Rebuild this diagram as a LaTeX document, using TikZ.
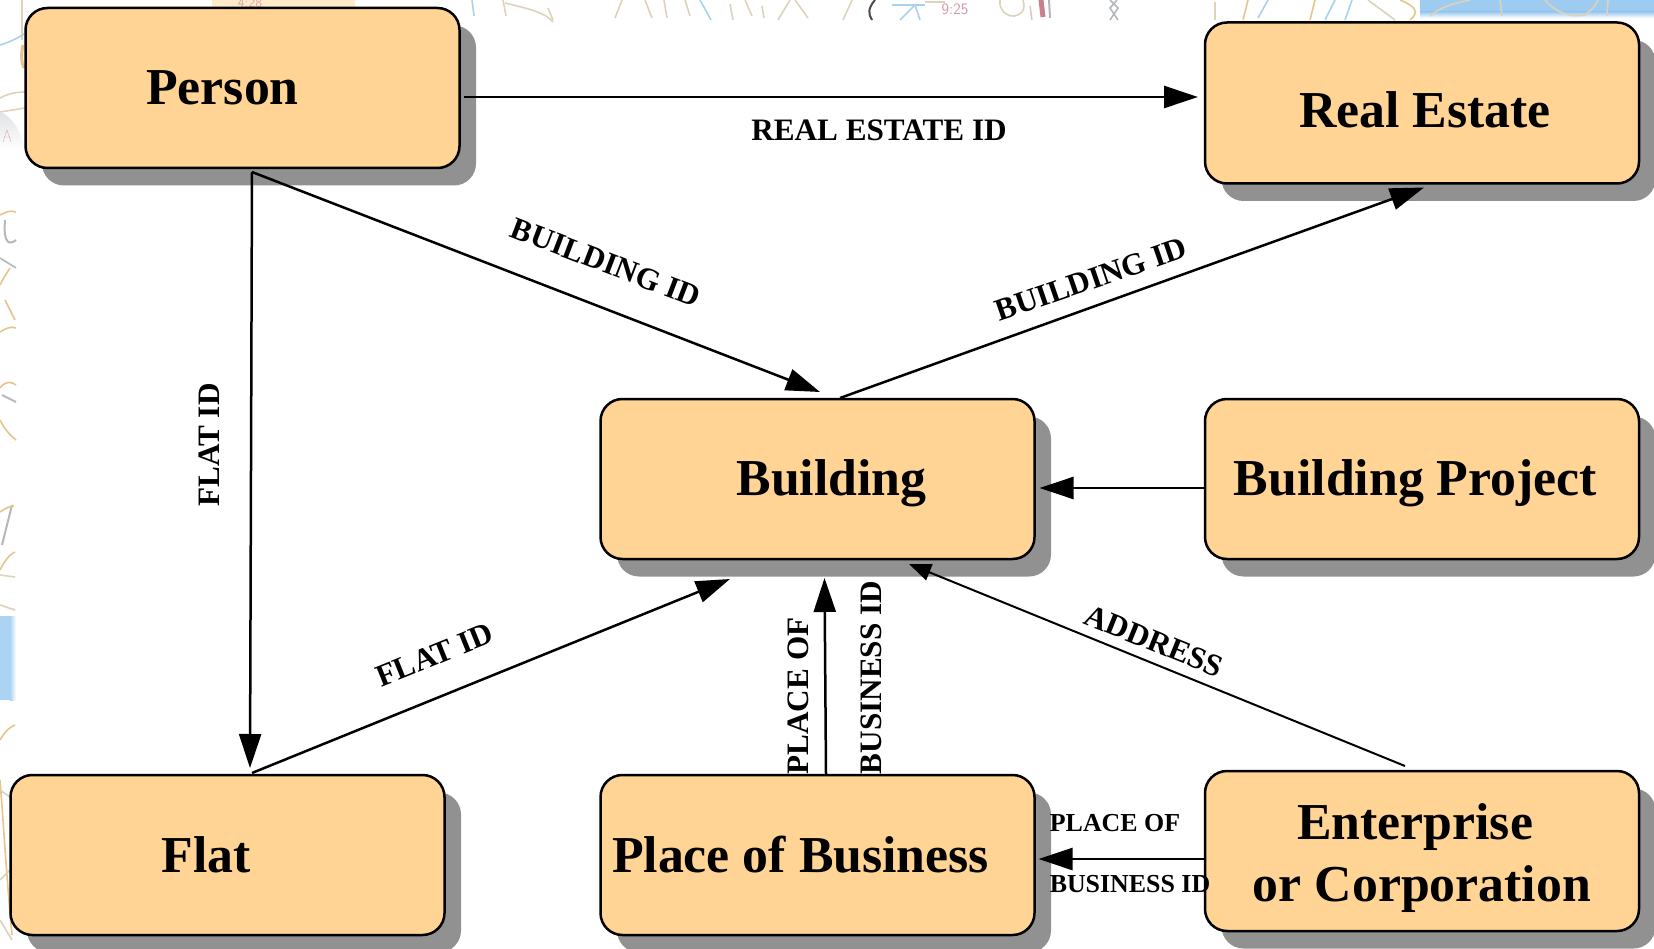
\documentclass[tikz,border=0pt]{standalone}
\usepackage{fontspec}
\setmainfont{Liberation Serif}
\usetikzlibrary{arrows.meta,shadows}
\definecolor{boxfill}{HTML}{FFD494}
\definecolor{shadowgray}{HTML}{919191}
\definecolor{maptan}{HTML}{DDD3BC}
\definecolor{maporange}{HTML}{E6C48E}
\definecolor{mapblue}{HTML}{A9D3EC}
\definecolor{mapgray}{HTML}{B4B8BE}
\definecolor{mapred}{HTML}{C8808F}
\definecolor{mapsea}{HTML}{9ECBF0}
\tikzset{
  box/.style={draw=black,fill=boxfill,line width=2.5pt,rounded corners=22pt,
    minimum width=434pt,minimum height=160pt,inner sep=0pt,outer sep=0pt,align=center,
    font=\fontsize{51.8pt}{62pt}\selectfont\bfseries,
    drop shadow={shadow xshift=16.5pt,shadow yshift=-17.5pt,fill=shadowgray,opacity=1}},
  lbl/.style={inner sep=0pt,font=\fontsize{31.2pt}{34pt}\selectfont\bfseries},
  smalllbl/.style={inner sep=0pt,font=\fontsize{25.9pt}{30pt}\selectfont\bfseries},
  conn/.style={draw=black,line width=2.5pt,-{Triangle[length=34pt,width=22pt]}},
  thinconn/.style={draw=black,line width=2pt,-{Triangle[length=22pt,width=17pt]}},
  mapt/.style={draw=maptan,line width=1.6pt},
  mapo/.style={draw=maporange,line width=1.6pt},
  mapb/.style={draw=mapblue,line width=1.6pt},
  mapg/.style={draw=mapgray,line width=1.6pt},
}
\begin{document}
\begin{tikzpicture}[x=1pt,y=-1pt]
\useasboundingbox (0,0) rectangle (1654,949);
\fill[white] (0,0) rectangle (1654,949);
% faded map scraps along the top edge
\fill[mapsea] (1420,0) rectangle (1654,12);
\shade[top color=mapsea,bottom color=white] (1420,12) rectangle (1654,18);
\fill[white] (1400,0) .. controls (1418,4) and (1420,12) .. (1416,18) -- (1400,18) -- cycle;
\fill[boxfill!50] (212,0) rectangle (355,8);
\node[inner sep=0pt,text=mapred!70,font=\fontsize{14pt}{16pt}\selectfont\sffamily] (t428) at (250,3) {4:28};
\node[inner sep=0pt,text=mapred!80,font=\fontsize{16pt}{18pt}\selectfont\sffamily] (t925) at (955,9) {9:25};
\draw[mapb] (472,0) -- (474,16);
\draw[mapt] (503,0) -- (506,16);
\draw[mapt] (505,3) .. controls (525,8) and (545,12) .. (553,22);
\draw[mapt] (548,8) -- (553,20);
\draw[mapt] (615,18) -- (622,0);
\draw[mapt] (645,0) -- (652,18);
\draw[mapt] (664,0) -- (667,18);
\draw[mapt] (685,0) -- (690,16);
\draw[mapb] (700,0) -- (711,20);
\draw[mapt] (730,4) -- (733,20);
\draw[mapt] (745,0) -- (752,16);
\draw[mapt] (762,6) -- (764,18);
\draw[mapt] (778,20) -- (790,0);
\draw[mapt] (795,0) -- (808,18);
\draw[mapt] (843,20) -- (852,0);
\draw[black!70,line width=2pt] (875,0) .. controls (868,8) and (868,14) .. (872,20);
\draw[mapb] (892,5) -- (925,5);
\draw[mapb] (900,20) -- (915,5) -- (920,20);
\draw[maptan,line width=1.6pt] (925,2) -- (945,2);
\draw[mapt] (1000,0) .. controls (998,12) and (1012,22) .. (1022,12) .. controls (1025,8) and (1024,4) .. (1023,0);
\draw[mapred!50,line width=1.4pt] (1030,6) -- (1032,20);
\draw[mapred,line width=5pt] (1041,0) -- (1043,17);
\draw[mapg,line width=2pt] (1049,0) -- (1050,18);
\draw[mapg] (1110,0) -- (1118,8) -- (1110,20) (1117,0) -- (1110,8) -- (1118,20);
\draw[mapt] (1215,2) -- (1215,20);
\draw[mapo] (1243,20) -- (1248,0);
\draw[mapb] (1258,18) -- (1268,0);
\draw[mapo] (1310,20) -- (1315,0);
\draw[mapb] (1325,20) -- (1335,0);
\draw[mapb] (1345,20) -- (1352,0);
\draw[mapt] (1368,0) -- (1395,20);
\draw[mapo] (1400,0) .. controls (1415,6) and (1420,12) .. (1410,20);
\draw[mapt] (1430,16) .. controls (1440,8) and (1450,4) .. (1470,0);
\draw[mapt] (1500,0) -- (1502,16);
\draw[mapt] (1545,0) .. controls (1555,12) and (1570,18) .. (1585,15) .. controls (1592,10) and (1596,5) .. (1598,0);
\draw[mapt] (1608,0) -- (1607,16);
% faded map scraps along the left edge
\fill[mapsea!85] (0,616) rectangle (10,700);
\shade[left color=mapsea!85,right color=white] (10,616) rectangle (16,700);
\draw[mapo] (0,570) .. controls (5,560) and (10,554) .. (15,552);
\draw[mapt] (22,0) -- (22,40);
\draw[mapb] (0,45) .. controls (10,42) and (18,38) .. (24,34);
\draw[mapo,line width=3pt] (23,45) .. controls (21,55) and (21,62) .. (24,68);
\draw[mapt] (0,98) .. controls (8,94) and (15,92) .. (25,92);
\draw[mapt] (0,112) -- (25,108);
\shade[top color=mapgray!40,bottom color=white] (0,112) .. controls (10,115) and (22,130) .. (24,150) -- (0,150) -- cycle;
\draw[mapred!70] (3,142) -- (7,130) -- (11,142) (3,137) -- (11,137);
\draw[mapg,line width=2pt] (5,220) .. controls (3,245) and (10,245) .. (16,240);
\draw[mapo] (0,215) .. controls (6,212) and (10,210) .. (16,212);
\draw[mapg] (0,258) -- (16,268);
\draw[mapo] (0,285) .. controls (5,275) and (9,270) .. (10,268);
\draw[mapo] (5,300) -- (15,320);
\draw[mapo] (0,332) .. controls (6,328) and (12,326) .. (16,328);
\draw[mapo] (0,388) .. controls (6,380) and (12,382) .. (16,385);
\draw[mapg,line width=2pt] (2,395) -- (16,402);
\draw[mapo] (0,420) .. controls (5,430) and (10,435) .. (16,440);
\draw[mapg,line width=2pt] (2,545) -- (12,505);
\draw[mapo] (0,512) .. controls (6,508) and (10,506) .. (14,506);
\draw[mapt] (0,575) -- (15,577);
\draw[mapt] (0,605) -- (15,610);
\draw[mapo] (0,740) .. controls (6,730) and (10,727) .. (15,725);
\draw[mapo] (0,780) .. controls (4,830) and (6,870) .. (12,935);
\draw[mapt] (0,790) -- (14,800);
\draw[mapt] (0,880) -- (10,870);
\draw[mapt] (0,920) -- (12,940);
% boxes
\node[box] (person) at (242.5,88) {\kern-40pt Person};
\node[box,minimum height=161pt] (estate) at (1422,103) {\rule{0pt}{50pt}\kern6pt Real Estate};
\node[box] (building) at (817.5,479) {\rule{0pt}{44.5pt}\kern28pt Building};
\node[box] (project) at (1422,479) {\rule{0pt}{44.5pt}\kern-13pt Building Project};
\node[box] (flat) at (227.5,855) {\kern-42pt Flat};
\node[box] (pob) at (817.5,855) {\kern-34pt Place of Business};
\node[box] (enterprise) at (1422,851) {\rule{0pt}{51pt}Enterprise\kern14pt\\or Corporation};
% connectors
\draw[conn] ([xshift=4pt,yshift=-9pt]person.east) -- ([xshift=-7pt,yshift=6pt]estate.west);
\draw[conn] ([xshift=9.5pt,yshift=-4pt]person.south) -- ([xshift=22.5pt,yshift=7pt]flat.north);
\draw[conn] ([xshift=9.5pt,yshift=-4pt]person.south) -- ([xshift=2.5pt,yshift=7pt]building.north);
\draw[conn] ([xshift=22.5pt,yshift=1pt]building.north) -- ([xshift=2pt,yshift=-4pt]estate.south);
\draw[conn] ([yshift=-9pt]project.west) -- ([xshift=5pt,yshift=-9pt]building.east);
\draw[conn] ([xshift=24.5pt,yshift=2pt]flat.north) -- ([xshift=-87.5pt,yshift=-20pt]building.south);
\draw[conn] ([xshift=8.5pt,yshift=1pt]pob.north) -- ([xshift=7pt,yshift=-19pt]building.south);
\draw[thinconn] ([xshift=-17pt,yshift=5pt]enterprise.north) -- ([xshift=91.5pt,yshift=-5pt]building.south);
\draw[conn] ([yshift=-8pt]enterprise.west) -- ([xshift=4pt,yshift=-4pt]pob.east);
% labels
\node[lbl] (l1) at (879,130.5) {REAL ESTATE ID};
\node[lbl,rotate=-21] (l2) at (606,262.6) {BUILDING ID};
\node[lbl,rotate=19] (l3) at (1091,279.5) {BUILDING ID};
\node[lbl,rotate=90] (l4) at (209,445) {FLAT ID};
\node[lbl,rotate=22] (l5) at (434.5,655) {FLAT ID};
\node[lbl,rotate=90] (l6) at (798.5,696) {PLACE OF};
\node[lbl,rotate=90] (l7) at (871,677.5) {BUSINESS ID};
\node[lbl,rotate=-22] (l8) at (1154,641) {ADDRESS};
\node[smalllbl] (l9) at (1115,823) {PLACE OF};
\node[smalllbl] (l10) at (1130,884) {BUSINESS ID};
\end{tikzpicture}
\end{document}
